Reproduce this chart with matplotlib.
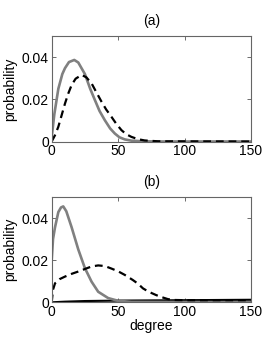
import numpy as np
import matplotlib.pyplot as plt

plt.rcParams['font.family'] = ['Liberation Sans', 'DejaVu Sans']

# (a) degree distributions
deg_a_solid = [0, 2, 5, 8, 10, 13, 17, 20, 25, 29, 32.5, 36, 40, 44, 47.5, 51, 55, 60, 70, 80, 150]
p_a_solid = [0.002, 0.013, 0.025, 0.032, 0.0348, 0.0377, 0.0387, 0.0375, 0.032, 0.025, 0.0197, 0.0145,
             0.0101, 0.0062, 0.0038, 0.002, 0.001, 0.0004, 0.0001, 0.0, 0.0]
deg_a_dash = [0, 2.5, 5, 7.5, 10, 12.5, 15, 18, 22.5, 26, 30, 33.5, 37.5, 41, 45, 48.5, 52.5, 56, 60, 65, 70, 80, 150]
p_a_dash = [0.0, 0.003, 0.007, 0.0125, 0.018, 0.0228, 0.0268, 0.0298, 0.0316, 0.0305, 0.0276, 0.0235, 0.0189,
            0.0152, 0.0117, 0.0085, 0.0054, 0.0035, 0.0022, 0.0011, 0.0005, 0.0001, 0.0]

# (b)
deg_b_solid = [0, 1, 2.5, 5, 7, 8.7, 11, 15, 20, 25, 30, 35, 42.5, 50, 60, 150]
p_b_solid = [0.02, 0.03, 0.0356, 0.0428, 0.0450, 0.0455, 0.0432, 0.0356, 0.0251, 0.0162, 0.0098, 0.005,
             0.002, 0.0007, 0.0002, 0.0]
deg_b_dash = [0, 1, 2.5, 6, 10, 15, 20, 25, 30, 35, 40, 45, 50, 55, 61, 65, 68.7, 73, 78.7, 83, 87.5, 92, 100, 150]
p_b_dash = [0.0, 0.006, 0.009, 0.011, 0.0122, 0.0135, 0.0146, 0.0158, 0.017, 0.0175, 0.0172, 0.016, 0.0147,
            0.013, 0.0106, 0.0088, 0.0066, 0.005, 0.0034, 0.0024, 0.0015, 0.0011, 0.001, 0.001]
deg_b_black = [0, 10, 25, 50, 75, 100, 125, 150]
p_b_black = [0.0, 0.0003, 0.0006, 0.0008, 0.0009, 0.001, 0.0011, 0.0012]

gray = '#808080'

fig = plt.figure(figsize=(2.77, 3.41), dpi=100)
ax1 = fig.add_axes([0.1866, 0.585, 0.7195, 0.309])
ax2 = fig.add_axes([0.1866, 0.1135, 0.7195, 0.309])

ax1.plot(deg_a_solid, p_a_solid, color=gray, lw=1.9)
ax1.plot(deg_a_dash, p_a_dash, color='black', lw=1.6, dashes=(3.5, 2.2))

ax2.plot(deg_b_black, p_b_black, color='black', lw=1.5)
ax2.plot(deg_b_solid, p_b_solid, color=gray, lw=1.9)
ax2.plot(deg_b_dash, p_b_dash, color='black', lw=1.6, dashes=(3.5, 2.2))

for ax, title in [(ax1, '(a)'), (ax2, '(b)')]:
    ax.set_xlim(0, 150)
    ax.set_ylim(0, 0.05)
    ax.set_xticks([0, 50, 100, 150])
    ax.set_yticks([0, 0.02, 0.04])
    ax.set_yticklabels(['0', '0.02', '0.04'])
    ax.tick_params(direction='in', length=3, width=0.6, top=True, right=True,
                   labelsize=10, pad=2, color='#555555')
    for s in ax.spines.values():
        s.set_color('#666666')
        s.set_linewidth(0.8)
    ax.set_ylabel('probability', fontsize=10, labelpad=3)
    ax.set_title(title, fontsize=10, pad=8)

ax2.set_xlabel('degree', fontsize=10, labelpad=0)

fig.savefig('out.png', dpi=100)
